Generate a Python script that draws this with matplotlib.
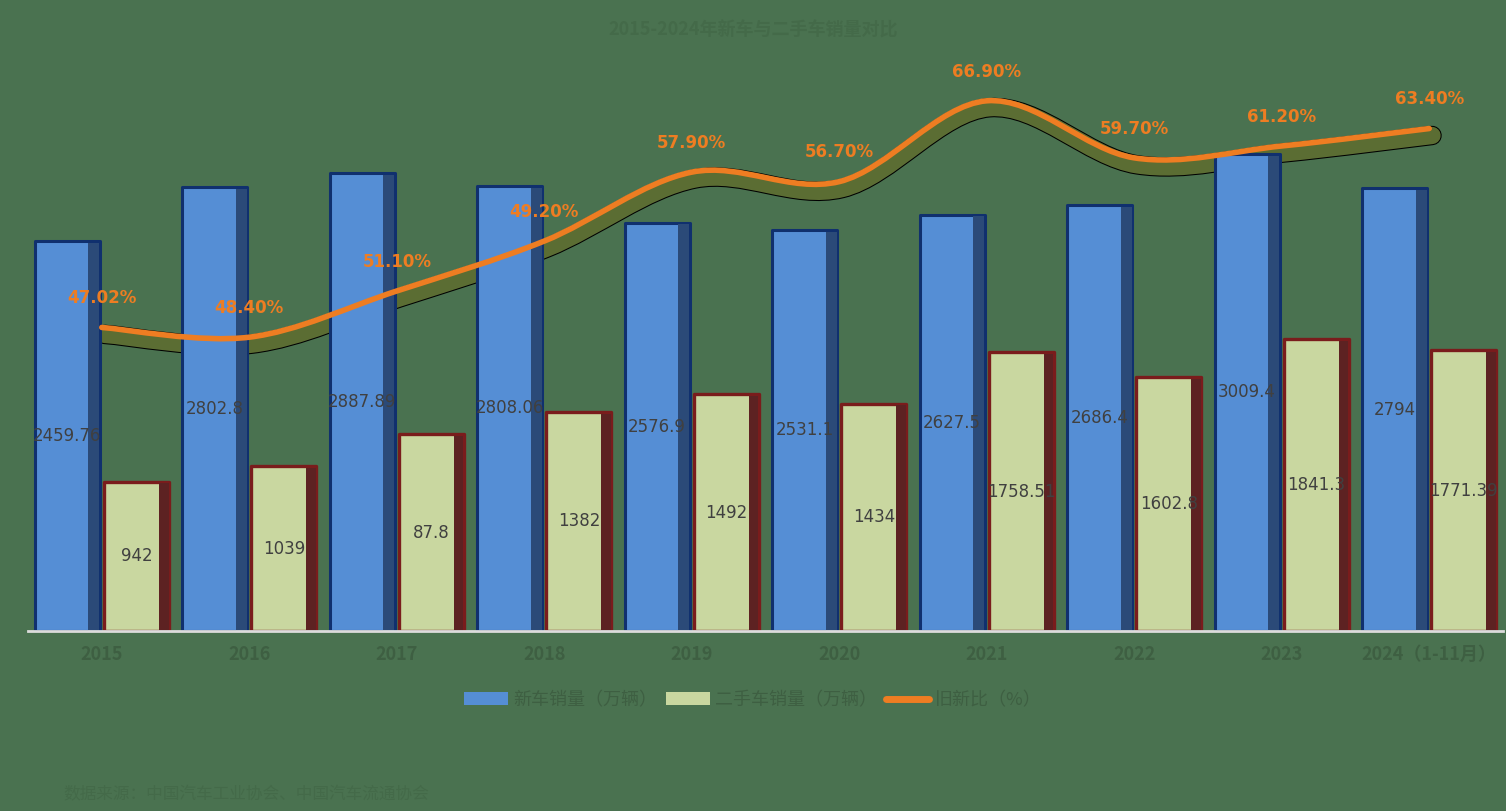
import numpy as np
import matplotlib
matplotlib.use("Agg")
import matplotlib.pyplot as plt
from matplotlib.path import Path
from matplotlib.patches import PathPatch, Patch
from matplotlib.lines import Line2D
from matplotlib.transforms import ScaledTranslation

plt.rcParams['font.family'] = ['Noto Sans CJK SC', 'DejaVu Sans']

# data
years = ['2015', '2016', '2017', '2018', '2019', '2020', '2021', '2022', '2023', '2024（1-11月）']
new_sales = [2459.76, 2802.8, 2887.89, 2808.06, 2576.9, 2531.1, 2627.5, 2686.4, 3009.4, 2794]
used_sales = [942, 1039, 1240, 1382, 1492, 1434, 1758.51, 1602.8, 1841.3, 1771.39]
new_labels = ['2459.76', '2802.8', '2887.89', '2808.06', '2576.9', '2531.1', '2627.5', '2686.4', '3009.4', '2794']
used_labels = ['942', '1039', '87.8', '1382', '1492', '1434', '1758.51', '1602.8', '1841.3', '1771.39']
ratio = [38.3, 37.07, 42.9, 49.2, 57.9, 56.7, 66.9, 59.7, 61.2, 63.4]
ratio_labels = ['47.02%', '48.40%', '51.10%', '49.20%', '57.90%', '56.70%', '66.90%', '59.70%', '61.20%', '63.40%']

bg = '#4a7250'
blue = '#558ed5'
blue_dark = '#2b4a78'
beige = '#c9d7a0'
maroon = '#5d2222'
orange = '#ee7d22'
faint = '#3e5f42'

fig = plt.figure(figsize=(15.06, 8.11), dpi=100, facecolor=bg)
ax = fig.add_axes([0.0186, 0.222, 0.9794, 0.684])
ax.set_facecolor(bg)
ax2 = ax.twinx()

x = np.arange(len(years))
w = 0.44
off = 0.235

# new car bars
ax.bar(x - off, new_sales, width=w, color=blue, edgecolor='#10306e',
       linewidth=2.2, joinstyle='round', zorder=2)
ax.bar(x - off + w / 2 - 0.04, np.array(new_sales) - 12, width=0.075,
       color=blue_dark, linewidth=0, zorder=2.1)

# used car bars
ax.bar(x + off, used_sales, width=w, color=beige, edgecolor='#7a1c1c',
       linewidth=2.4, joinstyle='round', zorder=2)
ax.bar(x + off + w / 2 - 0.035, np.array(used_sales) - 10, width=0.065,
       color=maroon, linewidth=0, zorder=2.1)

for i in range(len(years)):
    ax.text(x[i] - off, new_sales[i] / 2, new_labels[i], ha='center', va='center',
            fontsize=12, color='#404040', family='DejaVu Sans', zorder=5)
    ax.text(x[i] + off, used_sales[i] / 2, used_labels[i], ha='center', va='center',
            fontsize=12, color='#404040', family='DejaVu Sans', zorder=5)

ax.set_xlim(-0.5, len(years) - 0.5)
ax.set_ylim(0, 3500)
ax2.set_ylim(0, 70)

# smoothed ratio line (catmull-rom -> bezier, like excel smoothing)
pts = np.column_stack([x, ratio]).astype(float)
verts = [tuple(pts[0])]
codes = [Path.MOVETO]
for i in range(len(pts) - 1):
    p0 = pts[i - 1] if i > 0 else pts[i]
    p1 = pts[i]
    p2 = pts[i + 1]
    p3 = pts[i + 2] if i + 2 < len(pts) else pts[i + 1]
    c1 = p1 + (p2 - p0) / 6
    c2 = p2 - (p3 - p1) / 6
    verts += [tuple(c1), tuple(c2), tuple(p2)]
    codes += [Path.CURVE4] * 3
path = Path(verts, codes)

shadow_tr = ax2.transData + ScaledTranslation(2 / 72, -5 / 72, fig.dpi_scale_trans)
ax.add_patch(PathPatch(path, fill=False, edgecolor='black', linewidth=14,
                       capstyle='round', transform=shadow_tr, zorder=1.5))
ax.add_patch(PathPatch(path, fill=False, edgecolor='#5b6d33', linewidth=12.5,
                       capstyle='round', transform=shadow_tr, zorder=1.6))
ax2.add_patch(PathPatch(path, fill=False, edgecolor=orange, linewidth=4,
                        capstyle='round', zorder=3))

for i in range(len(years)):
    ax2.annotate(ratio_labels[i], (x[i], ratio[i]), xytext=(0, 21),
                 textcoords='offset points', ha='center', va='center',
                 fontsize=12, fontweight='bold', color=orange,
                 family='DejaVu Sans')

for a in (ax, ax2):
    for s in ('top', 'left', 'right'):
        a.spines[s].set_visible(False)
    a.set_yticks([])
ax2.spines['bottom'].set_visible(False)
ax.spines['bottom'].set_color('#dcdcdc')
ax.spines['bottom'].set_linewidth(2)
ax.spines['bottom'].set_zorder(6)

ax.set_xticks(x)
ax.set_xticklabels(years, fontsize=13, fontweight='bold', color=faint)
ax.tick_params(axis='x', length=0, pad=10)

handles = [Patch(facecolor=blue, edgecolor='none'),
           Patch(facecolor=beige, edgecolor='none'),
           Line2D([0], [0], color=orange, linewidth=5, solid_capstyle='round')]
leg = fig.legend(handles, ['新车销量（万辆）', '二手车销量（万辆）', '旧新比（%）'],
                 loc='center', bbox_to_anchor=(0.5, 0.137), ncol=3, frameon=False,
                 fontsize=13, handlelength=2.4, handletextpad=0.3, columnspacing=0.5)
for t in leg.get_texts():
    t.set_color(faint)

fig.text(0.5, 0.963, '2015-2024年新车与二手车销量对比', ha='center', va='center',
         fontsize=13, fontweight='bold', color='#446a49')
fig.text(0.042, 0.02, '数据来源：中国汽车工业协会、中国汽车流通协会', ha='left', va='center',
         fontsize=12, color='#446a49')

fig.savefig('out.png', dpi=100, facecolor=bg)
